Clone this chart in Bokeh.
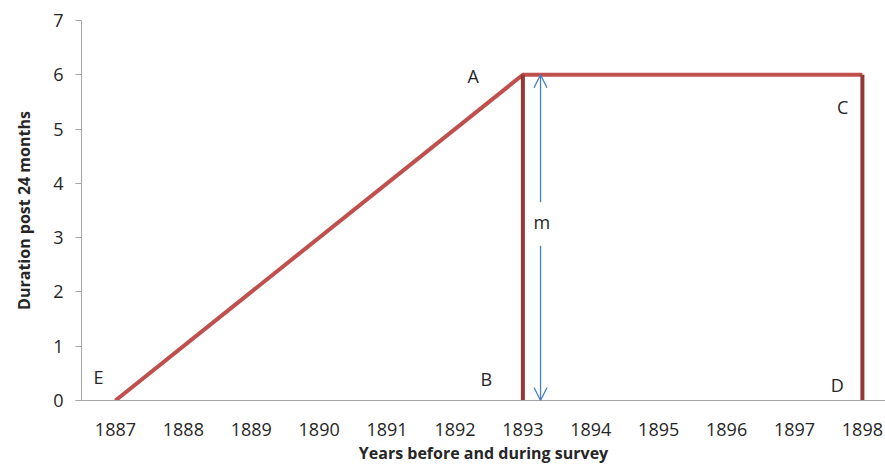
from bokeh.plotting import figure
from bokeh.models import ColumnDataSource, FixedTicker, Arrow, OpenHead, Range1d
from bokeh.core.properties import value
from bokeh.embed import file_html
from bokeh.resources import INLINE

# Data
years = [1887, 1888, 1889, 1890, 1891, 1892, 1893, 1894, 1895, 1896, 1897, 1898]
path_x = [1887, 1893, 1898]
path_y = [0, 6, 6]
vert_x = [1893, 1898]
vert_bottom = [0, 0]
vert_top = [6, 6]
arrow_x = 1893.26
arrow_top = 6
arrow_bottom = 0
arrow_gap_low = 2.85
arrow_gap_high = 3.65
m_label = "m"
m_x = 1893.28
m_y = 3.28
point_labels = ["A", "B", "C", "D", "E"]
point_x = [1892.27, 1892.46, 1897.71, 1897.63, 1886.75]
point_y = [5.97, 0.39, 5.40, 0.28, 0.44]
y_ticks = [0, 1, 2, 3, 4, 5, 6, 7]

FONT = "Open Sans"
TEXT = "#262626"
AXIS = "#A6A6A6"
RED = "#C0504D"
DARK = "#953735"
BLUE = "#4A7EBB"

p = figure(frame_width=804, frame_height=380, min_border_left=81, min_border_right=0,
           min_border_top=20, min_border_bottom=67,
           x_range=Range1d(1886.5, 1898.34), y_range=Range1d(0, 7),
           output_backend="svg", toolbar_location=None)
p.outline_line_color = None
p.xgrid.visible = False
p.ygrid.visible = False
p.background_fill_color = "white"

p.line(path_x, path_y, line_color=RED, line_width=4)
p.segment(x0=vert_x, y0=vert_bottom, x1=vert_x, y1=vert_top, line_color=DARK, line_width=4)

arr_src = ColumnDataSource(dict(xs=[arrow_x, arrow_x], ys=[arrow_gap_high, arrow_gap_low],
                                xe=[arrow_x, arrow_x], ye=[arrow_top, arrow_bottom]))
p.add_layout(Arrow(end=OpenHead(size=13, line_color=BLUE, line_width=1.3),
                   x_start="xs", y_start="ys", x_end="xe", y_end="ye", source=arr_src,
                   line_color=BLUE, line_width=1.3))

p.text(x=[m_x], y=[m_y], text=[m_label], text_font=value(FONT), text_font_size="18px",
       text_color=TEXT, text_align="center", text_baseline="middle")
p.text(x=point_x, y=point_y, text=point_labels, text_font=value(FONT), text_font_size="18px",
       text_color=TEXT, text_align="center", text_baseline="middle")

# x axis
p.xaxis.ticker = FixedTicker(ticks=years)
p.xaxis.major_tick_line_color = None
p.xaxis.minor_tick_line_color = None
p.xaxis.axis_line_color = AXIS
p.xaxis.major_label_standoff = 16
p.xaxis.axis_label = "Years before and during survey"
p.xaxis.axis_label_standoff = 3

# y axis
p.yaxis.ticker = FixedTicker(ticks=y_ticks)
p.yaxis.major_tick_line_color = AXIS
p.yaxis.major_tick_out = 6
p.yaxis.major_tick_in = 0
p.yaxis.minor_tick_line_color = None
p.yaxis.axis_line_color = AXIS
p.yaxis.major_label_standoff = 12
p.yaxis.axis_label = "Duration post 24 months"
p.yaxis.axis_label_standoff = 15

for ax in (p.xaxis, p.yaxis):
    ax.major_label_text_font = FONT
    ax.major_label_text_font_size = "18px"
    ax.major_label_text_color = TEXT
    ax.axis_label_text_font = FONT
    ax.axis_label_text_font_size = "16px"
    ax.axis_label_text_font_style = "bold"
    ax.axis_label_text_color = TEXT

open("out.html", "w").write(file_html(p, INLINE))
